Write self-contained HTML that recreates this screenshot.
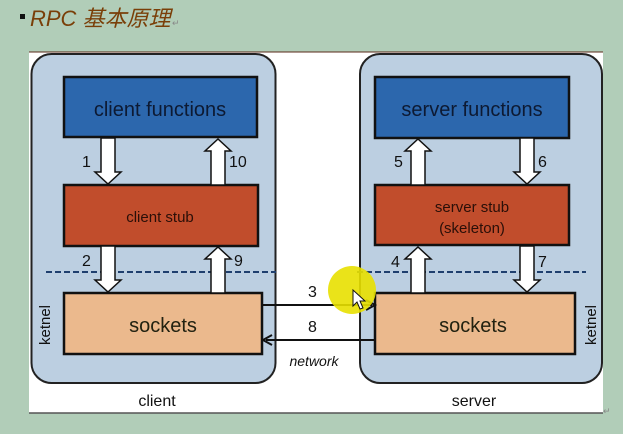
<!DOCTYPE html>
<html><head><meta charset="utf-8"><style>
html,body{margin:0;padding:0;width:623px;height:434px;overflow:hidden;background:#b1cdb8;}
svg{display:block}
</style></head><body>
<svg width="623" height="434" xmlns="http://www.w3.org/2000/svg" font-family="Liberation Sans, Arial, sans-serif">
<defs>
<g id="ad"><path d="M-7,0 H7 V34 H13 L0,46 L-13,34 H-7 Z" fill="#fff" stroke="#111" stroke-width="1.5"/></g>
<g id="au"><path d="M-7,46 H7 V12 H13 L0,0 L-13,12 H-7 Z" fill="#fff" stroke="#111" stroke-width="1.5"/></g>
</defs>
<rect x="0" y="0" width="623" height="434" fill="#b1cdb8"/>
<rect x="20" y="14" width="5" height="5" fill="#111"/>
<text x="30" y="26" font-size="22" font-style="italic" fill="#7a3f08" font-family="Liberation Sans, Noto Sans CJK SC, sans-serif">RPC 基本原理</text>
<text x="172" y="26" font-size="9" fill="#888">↵</text>
<rect x="29" y="52" width="574" height="361" fill="#fff"/>
<line x1="29" y1="413" x2="603" y2="413" stroke="#555" stroke-width="1.5"/>
<line x1="29" y1="52" x2="603" y2="52" stroke="#5a2a1a" stroke-width="1"/>
<text x="603" y="414" font-size="9" fill="#888">↵</text>
<rect x="31.5" y="54" width="244" height="329" rx="20" fill="#bccfe1" stroke="#222" stroke-width="2"/>
<rect x="360" y="54" width="242" height="329" rx="20" fill="#bccfe1" stroke="#222" stroke-width="2"/>
<line x1="46" y1="272" x2="276" y2="272" stroke="#1f3f6e" stroke-width="2" stroke-dasharray="6,3"/>
<line x1="357" y1="272" x2="586" y2="272" stroke="#1f3f6e" stroke-width="2" stroke-dasharray="6,3"/>
<rect x="64" y="77" width="193" height="60" fill="#2c67ad" stroke="#111" stroke-width="2.5"/>
<rect x="64" y="185" width="194" height="61" fill="#c14d2c" stroke="#111" stroke-width="2.5"/>
<rect x="64" y="293" width="198" height="61" fill="#ebb98d" stroke="#111" stroke-width="2.5"/>
<rect x="375" y="77" width="194" height="61" fill="#2c67ad" stroke="#111" stroke-width="2.5"/>
<rect x="375" y="185" width="194" height="60" fill="#c14d2c" stroke="#111" stroke-width="2.5"/>
<rect x="375" y="293" width="200" height="61" fill="#ebb98d" stroke="#111" stroke-width="2.5"/>
<text x="160" y="116" font-size="20" text-anchor="middle" fill="#0d1a33">client functions</text>
<text x="160" y="222" font-size="15" text-anchor="middle" fill="#2a0f08">client stub</text>
<text x="163" y="332" font-size="20" text-anchor="middle" fill="#221">sockets</text>
<text x="472" y="116" font-size="20" text-anchor="middle" fill="#0d1a33">server functions</text>
<text x="472" y="212" font-size="15" text-anchor="middle" fill="#2a0f08">server stub</text>
<text x="472" y="233" font-size="15" text-anchor="middle" fill="#2a0f08">(skeleton)</text>
<text x="473" y="332" font-size="20" text-anchor="middle" fill="#221">sockets</text>
<use href="#ad" x="108" y="138"/>
<use href="#au" x="218" y="139"/>
<use href="#ad" x="108" y="246"/>
<use href="#au" x="218" y="247"/>
<use href="#au" x="418" y="139"/>
<use href="#ad" x="527" y="138"/>
<use href="#au" x="418" y="247"/>
<use href="#ad" x="527" y="246"/>
<g font-size="16" fill="#111">
<text x="82" y="167">1</text><text x="229" y="167">10</text>
<text x="82" y="266">2</text><text x="234" y="266">9</text>
<text x="394" y="167">5</text><text x="538" y="167">6</text>
<text x="391" y="267">4</text><text x="538" y="267">7</text>
<text x="308" y="297">3</text><text x="308" y="332">8</text>
</g>
<line x1="262" y1="305" x2="372" y2="305" stroke="#111" stroke-width="2"/>
<path d="M366,300 L375,305 L366,310" fill="none" stroke="#111" stroke-width="2"/>
<line x1="266" y1="340" x2="375" y2="340" stroke="#111" stroke-width="2"/>
<path d="M272,335 L263,340 L272,345" fill="none" stroke="#111" stroke-width="2"/>
<text x="314" y="366" font-size="14" font-style="italic" text-anchor="middle" fill="#111">network</text>
<text x="157" y="406" font-size="16" text-anchor="middle" fill="#111">client</text>
<text x="474" y="406" font-size="16" text-anchor="middle" fill="#111">server</text>
<text transform="translate(50,325) rotate(-90)" font-size="15" text-anchor="middle" fill="#111">ketnel</text>
<text transform="translate(596,325) rotate(-90)" font-size="15" text-anchor="middle" fill="#111">ketnel</text>
<circle cx="352" cy="290" r="24" fill="#e8e000" opacity="0.9"/>
<path d="M353,290 L353,306 L357,302 L360,309 L363,308 L360,301 L365,301 Z" fill="#fff" stroke="#111" stroke-width="1"/>
</svg>
</body></html>
